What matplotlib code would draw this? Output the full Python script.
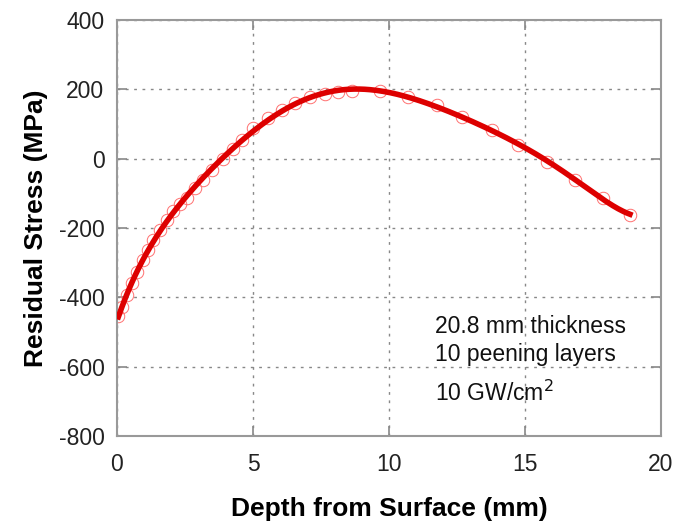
import numpy as np
import matplotlib
matplotlib.use('Agg')
import matplotlib.pyplot as plt

plt.rcParams['font.family'] = ['Liberation Sans', 'DejaVu Sans']
plt.rcParams['axes.unicode_minus'] = False

# measured points (depth mm, residual stress MPa)
depth = [0.05, 0.18, 0.37, 0.55, 0.73, 0.96, 1.14, 1.32, 1.58, 1.84, 2.06, 2.32,
         2.57, 2.87, 3.16, 3.49, 3.90, 4.26, 4.6, 5.0, 5.55, 6.07, 6.54, 7.10,
         7.65, 8.13, 8.64, 9.67, 10.7, 11.76, 12.7, 13.8, 14.74, 15.8, 16.84,
         17.87, 18.86]
stress = [-455, -428, -393, -359, -327, -293, -264, -235, -206, -177, -150, -130,
          -112, -86, -62, -33, 0, 28, 54, 88, 117, 140, 161, 178,
          186, 192, 195, 195, 178, 155, 120, 83, 40, -9, -61,
          -113, -162]

notes = ['20.8 mm thickness', '10 peening layers', '10 GW/cm$^2$']

fig = plt.figure(figsize=(6.81, 5.24), dpi=100)
ax = fig.add_axes([0.1718, 0.1679, 0.7988, 0.7939])

ax.plot(depth, stress, 'o', mfc='none', mec='#ff7070', ms=9, mew=0.7, zorder=2)

# smooth fit through the points
coef = np.polyfit(depth, stress, 7)
xs = np.linspace(min(depth), max(depth), 300)
ax.plot(xs, np.polyval(coef, xs), color='#dd0000', lw=4, zorder=3)

ax.set_xlim(0, 20)
ax.set_ylim(-800, 400)
ax.set_xticks([0, 5, 10, 15, 20])
ax.set_yticks(range(-800, 401, 200))
ax.grid(True, linestyle=(0, (2, 4)), color='#888888', lw=1)
ax.tick_params(direction='in', length=7, width=1.2, color='#888888',
               top=True, right=True, labelsize=16.5, labelcolor='#222222')
ax.tick_params(axis='y', pad=9)
ax.tick_params(axis='x', pad=12)
for s in ax.spines.values():
    s.set_color('#999999')
    s.set_linewidth(1.5)

ax.set_xlabel('Depth from Surface (mm)', fontsize=19, fontweight='bold', labelpad=15)
ax.set_ylabel('Residual Stress (MPa)', fontsize=19, fontweight='bold', labelpad=8)

ax.text(11.7, -485, notes[0], fontsize=16.5, va='center', color='#111111')
ax.text(11.7, -566, notes[1], fontsize=16.5, va='center', color='#111111')
ax.text(11.7, -676, notes[2], fontsize=16.5, va='center', color='#111111')

fig.savefig('out.png', dpi=100)
